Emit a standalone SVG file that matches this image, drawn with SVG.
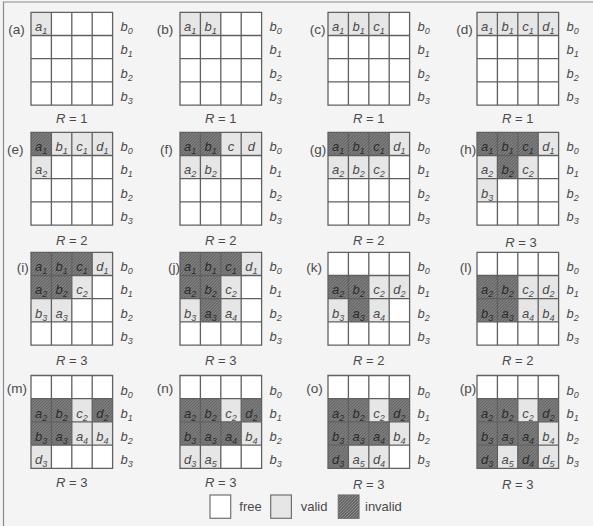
<svg xmlns="http://www.w3.org/2000/svg" xmlns:xlink="http://www.w3.org/1999/xlink" width="593" height="526" viewBox="0 0 593 526">
<style>
text{font-family:"Liberation Sans",Arial,sans-serif;fill:#4a4a4a;font-size:13px}
.c{font-style:italic;text-anchor:middle}
.bl{font-style:italic}
.lab{font-size:13.5px}
.r{text-anchor:middle}
.v{fill:#e6e6e6}
.i{fill:url(#hatch)}
.gl{fill:none;stroke:#606060;stroke-width:1.3}
</style>
<defs>
<pattern id="hatch" width="3" height="3" patternUnits="userSpaceOnUse">
<rect width="3" height="3" fill="#666666"/>
<path d="M0 3L3 0M-1 1L1 -1M2 4L4 2" stroke="#999999" stroke-width="0.8"/>
</pattern>
<rect id="bg" width="81.6" height="92.8" fill="#ffffff"/>
<path id="lines" class="gl" d="M0 0H81.6V92.8H0ZM20.4 0V92.8M40.8 0V92.8M61.2 0V92.8M0 23.2H81.6M0 46.4H81.6M0 69.6H81.6"/>
<g id="rowlab">
<text class="bl" x="89.5" y="19">b<tspan dy="3" font-size="9">0</tspan></text>
<text class="bl" x="89.5" y="42.2">b<tspan dy="3" font-size="9">1</tspan></text>
<text class="bl" x="89.5" y="65.4">b<tspan dy="3" font-size="9">2</tspan></text>
<text class="bl" x="89.5" y="88.6">b<tspan dy="3" font-size="9">3</tspan></text>
</g>
</defs>
<style>.i + text{fill:#2a2a2a}</style>
<rect width="593" height="526" fill="#f4f4f4"/>
<path d="M3.5 526V2H593" fill="none" stroke="#8a8a8a" stroke-width="1.2"/>

<g id="panel-a" transform="translate(31,12.3)">
<use href="#bg"/>
<rect class="v" x="0" y="0" width="20.4" height="23.2"/>
<use href="#lines"/><use href="#rowlab"/>
<text class="c" x="10.2" y="19">a<tspan dy="3" font-size="9">1</tspan></text>
<text class="lab" x="-22.7" y="21.5">(a)</text>
<text class="r" x="40.8" y="111.2"><tspan font-style="italic">R</tspan> = 1</text>
</g>

<g id="panel-b" transform="translate(180,12.3)">
<use href="#bg"/>
<rect class="v" x="0" y="0" width="20.4" height="23.2"/>
<rect class="v" x="20.4" y="0" width="20.4" height="23.2"/>
<use href="#lines"/><use href="#rowlab"/>
<text class="c" x="10.2" y="19">a<tspan dy="3" font-size="9">1</tspan></text>
<text class="c" x="30.6" y="19">b<tspan dy="3" font-size="9">1</tspan></text>
<text class="lab" x="-23.3" y="21.5">(b)</text>
<text class="r" x="40.8" y="111.2"><tspan font-style="italic">R</tspan> = 1</text>
</g>

<g id="panel-c" transform="translate(328,12.3)">
<use href="#bg"/>
<rect class="v" x="0" y="0" width="20.4" height="23.2"/>
<rect class="v" x="20.4" y="0" width="20.4" height="23.2"/>
<rect class="v" x="40.8" y="0" width="20.4" height="23.2"/>
<use href="#lines"/><use href="#rowlab"/>
<text class="c" x="10.2" y="19">a<tspan dy="3" font-size="9">1</tspan></text>
<text class="c" x="30.6" y="19">b<tspan dy="3" font-size="9">1</tspan></text>
<text class="c" x="51" y="19">c<tspan dy="3" font-size="9">1</tspan></text>
<text class="lab" x="-18.3" y="21.5">(c)</text>
<text class="r" x="40.8" y="111.2"><tspan font-style="italic">R</tspan> = 1</text>
</g>

<g id="panel-d" transform="translate(477,12.3)">
<use href="#bg"/>
<rect class="v" x="0" y="0" width="20.4" height="23.2"/>
<rect class="v" x="20.4" y="0" width="20.4" height="23.2"/>
<rect class="v" x="40.8" y="0" width="20.4" height="23.2"/>
<rect class="v" x="61.2" y="0" width="20.4" height="23.2"/>
<use href="#lines"/><use href="#rowlab"/>
<text class="c" x="10.2" y="19">a<tspan dy="3" font-size="9">1</tspan></text>
<text class="c" x="30.6" y="19">b<tspan dy="3" font-size="9">1</tspan></text>
<text class="c" x="51" y="19">c<tspan dy="3" font-size="9">1</tspan></text>
<text class="c" x="71.4" y="19">d<tspan dy="3" font-size="9">1</tspan></text>
<text class="lab" x="-20.7" y="21.5">(d)</text>
<text class="r" x="40.8" y="111.2"><tspan font-style="italic">R</tspan> = 1</text>
</g>

<g id="panel-e" transform="translate(31,132.3)">
<use href="#bg"/>
<rect class="i" x="0" y="0" width="20.4" height="23.2"/>
<rect class="v" x="20.4" y="0" width="20.4" height="23.2"/>
<rect class="v" x="40.8" y="0" width="20.4" height="23.2"/>
<rect class="v" x="61.2" y="0" width="20.4" height="23.2"/>
<rect class="v" x="0" y="23.2" width="20.4" height="23.2"/>
<use href="#lines"/><use href="#rowlab"/>
<text class="c d" x="10.2" y="19">a<tspan dy="3" font-size="9">1</tspan></text>
<text class="c" x="30.6" y="19">b<tspan dy="3" font-size="9">1</tspan></text>
<text class="c" x="51" y="19">c<tspan dy="3" font-size="9">1</tspan></text>
<text class="c" x="71.4" y="19">d<tspan dy="3" font-size="9">1</tspan></text>
<text class="c" x="10.2" y="42.2">a<tspan dy="3" font-size="9">2</tspan></text>
<text class="lab" x="-24" y="21.5">(e)</text>
<text class="r" x="40.8" y="112.7"><tspan font-style="italic">R</tspan> = 2</text>
</g>

<g id="panel-f" transform="translate(180,132.3)">
<use href="#bg"/>
<rect class="i" x="0" y="0" width="20.4" height="23.2"/>
<rect class="i" x="20.4" y="0" width="20.4" height="23.2"/>
<rect class="v" x="40.8" y="0" width="20.4" height="23.2"/>
<rect class="v" x="61.2" y="0" width="20.4" height="23.2"/>
<rect class="v" x="0" y="23.2" width="20.4" height="23.2"/>
<rect class="v" x="20.4" y="23.2" width="20.4" height="23.2"/>
<use href="#lines"/><use href="#rowlab"/>
<text class="c d" x="10.2" y="19">a<tspan dy="3" font-size="9">1</tspan></text>
<text class="c d" x="30.6" y="19">b<tspan dy="3" font-size="9">1</tspan></text>
<text class="c" x="51" y="19">c</text>
<text class="c" x="71.4" y="19">d</text>
<text class="c" x="10.2" y="42.2">a<tspan dy="3" font-size="9">2</tspan></text>
<text class="c" x="30.6" y="42.2">b<tspan dy="3" font-size="9">2</tspan></text>
<text class="lab" x="-20" y="21.5">(f)</text>
<text class="r" x="40.8" y="112.7"><tspan font-style="italic">R</tspan> = 2</text>
</g>

<g id="panel-g" transform="translate(328,132.3)">
<use href="#bg"/>
<rect class="i" x="0" y="0" width="20.4" height="23.2"/>
<rect class="i" x="20.4" y="0" width="20.4" height="23.2"/>
<rect class="i" x="40.8" y="0" width="20.4" height="23.2"/>
<rect class="v" x="61.2" y="0" width="20.4" height="23.2"/>
<rect class="v" x="0" y="23.2" width="20.4" height="23.2"/>
<rect class="v" x="20.4" y="23.2" width="20.4" height="23.2"/>
<rect class="v" x="40.8" y="23.2" width="20.4" height="23.2"/>
<use href="#lines"/><use href="#rowlab"/>
<text class="c d" x="10.2" y="19">a<tspan dy="3" font-size="9">1</tspan></text>
<text class="c d" x="30.6" y="19">b<tspan dy="3" font-size="9">1</tspan></text>
<text class="c d" x="51" y="19">c<tspan dy="3" font-size="9">1</tspan></text>
<text class="c" x="71.4" y="19">d<tspan dy="3" font-size="9">1</tspan></text>
<text class="c" x="10.2" y="42.2">a<tspan dy="3" font-size="9">2</tspan></text>
<text class="c" x="30.6" y="42.2">b<tspan dy="3" font-size="9">2</tspan></text>
<text class="c" x="51" y="42.2">c<tspan dy="3" font-size="9">2</tspan></text>
<text class="lab" x="-18.3" y="21.5">(g)</text>
<text class="r" x="40.8" y="112.7"><tspan font-style="italic">R</tspan> = 2</text>
</g>

<g id="panel-h" transform="translate(477,132.3)">
<use href="#bg"/>
<rect class="i" x="0" y="0" width="20.4" height="23.2"/>
<rect class="i" x="20.4" y="0" width="20.4" height="23.2"/>
<rect class="i" x="40.8" y="0" width="20.4" height="23.2"/>
<rect class="v" x="61.2" y="0" width="20.4" height="23.2"/>
<rect class="v" x="0" y="23.2" width="20.4" height="23.2"/>
<rect class="i" x="20.4" y="23.2" width="20.4" height="23.2"/>
<rect class="v" x="40.8" y="23.2" width="20.4" height="23.2"/>
<rect class="v" x="0" y="46.4" width="20.4" height="23.2"/>
<use href="#lines"/><use href="#rowlab"/>
<text class="c d" x="10.2" y="19">a<tspan dy="3" font-size="9">1</tspan></text>
<text class="c d" x="30.6" y="19">b<tspan dy="3" font-size="9">1</tspan></text>
<text class="c d" x="51" y="19">c<tspan dy="3" font-size="9">1</tspan></text>
<text class="c" x="71.4" y="19">d<tspan dy="3" font-size="9">1</tspan></text>
<text class="c" x="10.2" y="42.2">a<tspan dy="3" font-size="9">2</tspan></text>
<text class="c d" x="30.6" y="42.2">b<tspan dy="3" font-size="9">2</tspan></text>
<text class="c" x="51" y="42.2">c<tspan dy="3" font-size="9">2</tspan></text>
<text class="c" x="10.2" y="65.4">b<tspan dy="3" font-size="9">3</tspan></text>
<text class="lab" x="-17.3" y="21.5">(h)</text>
<text class="r" x="44" y="115.2"><tspan font-style="italic">R</tspan> = 3</text>
</g>

<g id="panel-i" transform="translate(31,252.3)">
<use href="#bg"/>
<rect class="i" x="0" y="0" width="20.4" height="23.2"/>
<rect class="i" x="20.4" y="0" width="20.4" height="23.2"/>
<rect class="i" x="40.8" y="0" width="20.4" height="23.2"/>
<rect class="v" x="61.2" y="0" width="20.4" height="23.2"/>
<rect class="i" x="0" y="23.2" width="20.4" height="23.2"/>
<rect class="i" x="20.4" y="23.2" width="20.4" height="23.2"/>
<rect class="v" x="40.8" y="23.2" width="20.4" height="23.2"/>
<rect class="v" x="0" y="46.4" width="20.4" height="23.2"/>
<rect class="v" x="20.4" y="46.4" width="20.4" height="23.2"/>
<use href="#lines"/><use href="#rowlab"/>
<text class="c d" x="10.2" y="19">a<tspan dy="3" font-size="9">1</tspan></text>
<text class="c d" x="30.6" y="19">b<tspan dy="3" font-size="9">1</tspan></text>
<text class="c d" x="51" y="19">c<tspan dy="3" font-size="9">1</tspan></text>
<text class="c" x="71.4" y="19">d<tspan dy="3" font-size="9">1</tspan></text>
<text class="c d" x="10.2" y="42.2">a<tspan dy="3" font-size="9">2</tspan></text>
<text class="c d" x="30.6" y="42.2">b<tspan dy="3" font-size="9">2</tspan></text>
<text class="c" x="51" y="42.2">c<tspan dy="3" font-size="9">2</tspan></text>
<text class="c" x="10.2" y="65.4">b<tspan dy="3" font-size="9">3</tspan></text>
<text class="c" x="30.6" y="65.4">a<tspan dy="3" font-size="9">3</tspan></text>
<text class="lab" x="-14.3" y="19.5">(i)</text>
<text class="r" x="40.8" y="112.7"><tspan font-style="italic">R</tspan> = 3</text>
</g>

<g id="panel-j" transform="translate(180,252.3)">
<use href="#bg"/>
<rect class="i" x="0" y="0" width="20.4" height="23.2"/>
<rect class="i" x="20.4" y="0" width="20.4" height="23.2"/>
<rect class="i" x="40.8" y="0" width="20.4" height="23.2"/>
<rect class="v" x="61.2" y="0" width="20.4" height="23.2"/>
<rect class="i" x="0" y="23.2" width="20.4" height="23.2"/>
<rect class="i" x="20.4" y="23.2" width="20.4" height="23.2"/>
<rect class="v" x="40.8" y="23.2" width="20.4" height="23.2"/>
<rect class="v" x="0" y="46.4" width="20.4" height="23.2"/>
<rect class="i" x="20.4" y="46.4" width="20.4" height="23.2"/>
<rect class="v" x="40.8" y="46.4" width="20.4" height="23.2"/>
<use href="#lines"/><use href="#rowlab"/>
<text class="c d" x="10.2" y="19">a<tspan dy="3" font-size="9">1</tspan></text>
<text class="c d" x="30.6" y="19">b<tspan dy="3" font-size="9">1</tspan></text>
<text class="c d" x="51" y="19">c<tspan dy="3" font-size="9">1</tspan></text>
<text class="c" x="71.4" y="19">d<tspan dy="3" font-size="9">1</tspan></text>
<text class="c d" x="10.2" y="42.2">a<tspan dy="3" font-size="9">2</tspan></text>
<text class="c d" x="30.6" y="42.2">b<tspan dy="3" font-size="9">2</tspan></text>
<text class="c" x="51" y="42.2">c<tspan dy="3" font-size="9">2</tspan></text>
<text class="c" x="10.2" y="65.4">b<tspan dy="3" font-size="9">3</tspan></text>
<text class="c d" x="30.6" y="65.4">a<tspan dy="3" font-size="9">3</tspan></text>
<text class="c" x="51" y="65.4">a<tspan dy="3" font-size="9">4</tspan></text>
<text class="lab" x="-12" y="19.5">(j)</text>
<text class="r" x="40.8" y="112.7"><tspan font-style="italic">R</tspan> = 3</text>
</g>

<g id="panel-k" transform="translate(328,252.3)">
<use href="#bg"/>
<rect class="i" x="0" y="23.2" width="20.4" height="23.2"/>
<rect class="i" x="20.4" y="23.2" width="20.4" height="23.2"/>
<rect class="v" x="40.8" y="23.2" width="20.4" height="23.2"/>
<rect class="v" x="61.2" y="23.2" width="20.4" height="23.2"/>
<rect class="v" x="0" y="46.4" width="20.4" height="23.2"/>
<rect class="i" x="20.4" y="46.4" width="20.4" height="23.2"/>
<rect class="v" x="40.8" y="46.4" width="20.4" height="23.2"/>
<use href="#lines"/><use href="#rowlab"/>
<text class="c d" x="10.2" y="42.2">a<tspan dy="3" font-size="9">2</tspan></text>
<text class="c d" x="30.6" y="42.2">b<tspan dy="3" font-size="9">2</tspan></text>
<text class="c" x="51" y="42.2">c<tspan dy="3" font-size="9">2</tspan></text>
<text class="c" x="71.4" y="42.2">d<tspan dy="3" font-size="9">2</tspan></text>
<text class="c" x="10.2" y="65.4">b<tspan dy="3" font-size="9">3</tspan></text>
<text class="c d" x="30.6" y="65.4">a<tspan dy="3" font-size="9">3</tspan></text>
<text class="c" x="51" y="65.4">a<tspan dy="3" font-size="9">4</tspan></text>
<text class="lab" x="-21.7" y="19.5">(k)</text>
<text class="r" x="40.8" y="112.7"><tspan font-style="italic">R</tspan> = 2</text>
</g>

<g id="panel-l" transform="translate(477,252.3)">
<use href="#bg"/>
<rect class="i" x="0" y="23.2" width="20.4" height="23.2"/>
<rect class="i" x="20.4" y="23.2" width="20.4" height="23.2"/>
<rect class="v" x="40.8" y="23.2" width="20.4" height="23.2"/>
<rect class="v" x="61.2" y="23.2" width="20.4" height="23.2"/>
<rect class="i" x="0" y="46.4" width="20.4" height="23.2"/>
<rect class="i" x="20.4" y="46.4" width="20.4" height="23.2"/>
<rect class="v" x="40.8" y="46.4" width="20.4" height="23.2"/>
<rect class="v" x="61.2" y="46.4" width="20.4" height="23.2"/>
<use href="#lines"/><use href="#rowlab"/>
<text class="c d" x="10.2" y="42.2">a<tspan dy="3" font-size="9">2</tspan></text>
<text class="c d" x="30.6" y="42.2">b<tspan dy="3" font-size="9">2</tspan></text>
<text class="c" x="51" y="42.2">c<tspan dy="3" font-size="9">2</tspan></text>
<text class="c" x="71.4" y="42.2">d<tspan dy="3" font-size="9">2</tspan></text>
<text class="c d" x="10.2" y="65.4">b<tspan dy="3" font-size="9">3</tspan></text>
<text class="c d" x="30.6" y="65.4">a<tspan dy="3" font-size="9">3</tspan></text>
<text class="c" x="51" y="65.4">a<tspan dy="3" font-size="9">4</tspan></text>
<text class="c" x="71.4" y="65.4">b<tspan dy="3" font-size="9">4</tspan></text>
<text class="lab" x="-17.3" y="19.5">(l)</text>
<text class="r" x="40.8" y="112.7"><tspan font-style="italic">R</tspan> = 2</text>
</g>

<g id="panel-m" transform="translate(31,375.5)">
<use href="#bg"/>
<rect class="i" x="0" y="23.2" width="20.4" height="23.2"/>
<rect class="i" x="20.4" y="23.2" width="20.4" height="23.2"/>
<rect class="v" x="40.8" y="23.2" width="20.4" height="23.2"/>
<rect class="i" x="61.2" y="23.2" width="20.4" height="23.2"/>
<rect class="i" x="0" y="46.4" width="20.4" height="23.2"/>
<rect class="i" x="20.4" y="46.4" width="20.4" height="23.2"/>
<rect class="v" x="40.8" y="46.4" width="20.4" height="23.2"/>
<rect class="v" x="61.2" y="46.4" width="20.4" height="23.2"/>
<rect class="v" x="0" y="69.6" width="20.4" height="23.2"/>
<use href="#lines"/><use href="#rowlab"/>
<text class="c d" x="10.2" y="42.2">a<tspan dy="3" font-size="9">2</tspan></text>
<text class="c d" x="30.6" y="42.2">b<tspan dy="3" font-size="9">2</tspan></text>
<text class="c" x="51" y="42.2">c<tspan dy="3" font-size="9">2</tspan></text>
<text class="c d" x="71.4" y="42.2">d<tspan dy="3" font-size="9">2</tspan></text>
<text class="c d" x="10.2" y="65.4">b<tspan dy="3" font-size="9">3</tspan></text>
<text class="c d" x="30.6" y="65.4">a<tspan dy="3" font-size="9">3</tspan></text>
<text class="c" x="51" y="65.4">a<tspan dy="3" font-size="9">4</tspan></text>
<text class="c" x="71.4" y="65.4">b<tspan dy="3" font-size="9">4</tspan></text>
<text class="c" x="10.2" y="88.6">d<tspan dy="3" font-size="9">3</tspan></text>
<text class="lab" x="-24.3" y="17.5">(m)</text>
<text class="r" x="40.8" y="111.5"><tspan font-style="italic">R</tspan> = 3</text>
</g>

<g id="panel-n" transform="translate(180,375.5)">
<use href="#bg"/>
<rect class="i" x="0" y="23.2" width="20.4" height="23.2"/>
<rect class="i" x="20.4" y="23.2" width="20.4" height="23.2"/>
<rect class="v" x="40.8" y="23.2" width="20.4" height="23.2"/>
<rect class="i" x="61.2" y="23.2" width="20.4" height="23.2"/>
<rect class="i" x="0" y="46.4" width="20.4" height="23.2"/>
<rect class="i" x="20.4" y="46.4" width="20.4" height="23.2"/>
<rect class="i" x="40.8" y="46.4" width="20.4" height="23.2"/>
<rect class="v" x="61.2" y="46.4" width="20.4" height="23.2"/>
<rect class="v" x="0" y="69.6" width="20.4" height="23.2"/>
<rect class="v" x="20.4" y="69.6" width="20.4" height="23.2"/>
<use href="#lines"/><use href="#rowlab"/>
<text class="c d" x="10.2" y="42.2">a<tspan dy="3" font-size="9">2</tspan></text>
<text class="c d" x="30.6" y="42.2">b<tspan dy="3" font-size="9">2</tspan></text>
<text class="c" x="51" y="42.2">c<tspan dy="3" font-size="9">2</tspan></text>
<text class="c d" x="71.4" y="42.2">d<tspan dy="3" font-size="9">2</tspan></text>
<text class="c d" x="10.2" y="65.4">b<tspan dy="3" font-size="9">3</tspan></text>
<text class="c d" x="30.6" y="65.4">a<tspan dy="3" font-size="9">3</tspan></text>
<text class="c d" x="51" y="65.4">a<tspan dy="3" font-size="9">4</tspan></text>
<text class="c" x="71.4" y="65.4">b<tspan dy="3" font-size="9">4</tspan></text>
<text class="c" x="10.2" y="88.6">d<tspan dy="3" font-size="9">3</tspan></text>
<text class="c" x="30.6" y="88.6">a<tspan dy="3" font-size="9">5</tspan></text>
<text class="lab" x="-23.3" y="17.5">(n)</text>
<text class="r" x="40.8" y="111.5"><tspan font-style="italic">R</tspan> = 3</text>
</g>

<g id="panel-o" transform="translate(328,375.5)">
<use href="#bg"/>
<rect class="i" x="0" y="23.2" width="20.4" height="23.2"/>
<rect class="i" x="20.4" y="23.2" width="20.4" height="23.2"/>
<rect class="v" x="40.8" y="23.2" width="20.4" height="23.2"/>
<rect class="i" x="61.2" y="23.2" width="20.4" height="23.2"/>
<rect class="i" x="0" y="46.4" width="20.4" height="23.2"/>
<rect class="i" x="20.4" y="46.4" width="20.4" height="23.2"/>
<rect class="i" x="40.8" y="46.4" width="20.4" height="23.2"/>
<rect class="v" x="61.2" y="46.4" width="20.4" height="23.2"/>
<rect class="i" x="0" y="69.6" width="20.4" height="23.2"/>
<rect class="v" x="20.4" y="69.6" width="20.4" height="23.2"/>
<rect class="v" x="40.8" y="69.6" width="20.4" height="23.2"/>
<use href="#lines"/><use href="#rowlab"/>
<text class="c d" x="10.2" y="42.2">a<tspan dy="3" font-size="9">2</tspan></text>
<text class="c d" x="30.6" y="42.2">b<tspan dy="3" font-size="9">2</tspan></text>
<text class="c" x="51" y="42.2">c<tspan dy="3" font-size="9">2</tspan></text>
<text class="c d" x="71.4" y="42.2">d<tspan dy="3" font-size="9">2</tspan></text>
<text class="c d" x="10.2" y="65.4">b<tspan dy="3" font-size="9">3</tspan></text>
<text class="c d" x="30.6" y="65.4">a<tspan dy="3" font-size="9">3</tspan></text>
<text class="c d" x="51" y="65.4">a<tspan dy="3" font-size="9">4</tspan></text>
<text class="c" x="71.4" y="65.4">b<tspan dy="3" font-size="9">4</tspan></text>
<text class="c d" x="10.2" y="88.6">d<tspan dy="3" font-size="9">3</tspan></text>
<text class="c" x="30.6" y="88.6">a<tspan dy="3" font-size="9">5</tspan></text>
<text class="c" x="51" y="88.6">d<tspan dy="3" font-size="9">4</tspan></text>
<text class="lab" x="-21.7" y="17.5">(o)</text>
<text class="r" x="40.8" y="113"><tspan font-style="italic">R</tspan> = 3</text>
</g>

<g id="panel-p" transform="translate(477,375.5)">
<use href="#bg"/>
<rect class="i" x="0" y="23.2" width="20.4" height="23.2"/>
<rect class="i" x="20.4" y="23.2" width="20.4" height="23.2"/>
<rect class="v" x="40.8" y="23.2" width="20.4" height="23.2"/>
<rect class="i" x="61.2" y="23.2" width="20.4" height="23.2"/>
<rect class="i" x="0" y="46.4" width="20.4" height="23.2"/>
<rect class="i" x="20.4" y="46.4" width="20.4" height="23.2"/>
<rect class="i" x="40.8" y="46.4" width="20.4" height="23.2"/>
<rect class="v" x="61.2" y="46.4" width="20.4" height="23.2"/>
<rect class="i" x="0" y="69.6" width="20.4" height="23.2"/>
<rect class="v" x="20.4" y="69.6" width="20.4" height="23.2"/>
<rect class="i" x="40.8" y="69.6" width="20.4" height="23.2"/>
<rect class="v" x="61.2" y="69.6" width="20.4" height="23.2"/>
<use href="#lines"/><use href="#rowlab"/>
<text class="c d" x="10.2" y="42.2">a<tspan dy="3" font-size="9">2</tspan></text>
<text class="c d" x="30.6" y="42.2">b<tspan dy="3" font-size="9">2</tspan></text>
<text class="c" x="51" y="42.2">c<tspan dy="3" font-size="9">2</tspan></text>
<text class="c d" x="71.4" y="42.2">d<tspan dy="3" font-size="9">2</tspan></text>
<text class="c d" x="10.2" y="65.4">b<tspan dy="3" font-size="9">3</tspan></text>
<text class="c d" x="30.6" y="65.4">a<tspan dy="3" font-size="9">3</tspan></text>
<text class="c d" x="51" y="65.4">a<tspan dy="3" font-size="9">4</tspan></text>
<text class="c" x="71.4" y="65.4">b<tspan dy="3" font-size="9">4</tspan></text>
<text class="c d" x="10.2" y="88.6">d<tspan dy="3" font-size="9">3</tspan></text>
<text class="c" x="30.6" y="88.6">a<tspan dy="3" font-size="9">5</tspan></text>
<text class="c d" x="51" y="88.6">d<tspan dy="3" font-size="9">4</tspan></text>
<text class="c" x="71.4" y="88.6">d<tspan dy="3" font-size="9">5</tspan></text>
<text class="lab" x="-17.3" y="17.5">(p)</text>
<text class="r" x="40.8" y="113"><tspan font-style="italic">R</tspan> = 3</text>
</g>

<style>.d{fill:#2c2c2c}</style>

<g id="legend">
<rect x="210" y="495" width="20.7" height="23.3" fill="#ffffff" stroke="#707070" stroke-width="1.2"/>
<text x="239.3" y="511">free</text>
<rect x="270.7" y="495" width="20.7" height="23.3" fill="#e6e6e6" stroke="#707070" stroke-width="1.2"/>
<text x="300.7" y="511">valid</text>
<rect x="338.3" y="495" width="20.7" height="23.3" fill="url(#hatch)" stroke="#707070" stroke-width="1.2"/>
<text x="365" y="511">invalid</text>
</g>
</svg>
